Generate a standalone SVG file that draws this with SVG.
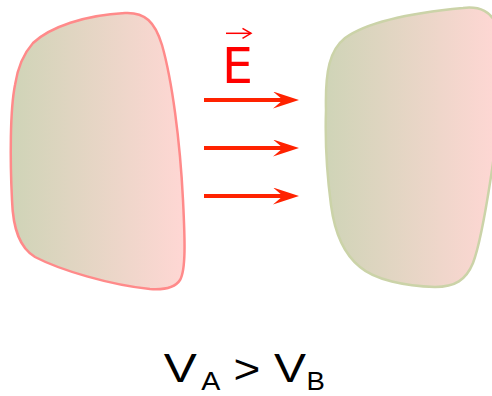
<svg xmlns="http://www.w3.org/2000/svg" width="492" height="396" viewBox="0 0 492 396">
<defs>
<linearGradient id="fill" x1="0" y1="0" x2="1" y2="0">
<stop offset="0" stop-color="#cfd4b7"/>
<stop offset="1" stop-color="#ffd7d4"/>
</linearGradient>
<marker id="head" markerUnits="userSpaceOnUse" markerWidth="26" markerHeight="17" viewBox="0 0 26 17" refX="17" refY="8.5" orient="auto">
<path d="M0,0 L26,8.5 L0,17 L10,8.5 Z" fill="#ff2200"/>
</marker>
<marker id="vhead" markerUnits="userSpaceOnUse" markerWidth="12" markerHeight="14" viewBox="0 0 12 14" refX="10" refY="7" orient="auto">
<path d="M1.5,2 L10,7 L1.5,12" fill="none" stroke="#ff0000" stroke-width="1.5"/>
</marker>
<style>
.field{stroke:#ff2200;stroke-width:4;fill:none;marker-end:url(#head)}
.lbl{font-family:"Liberation Sans",Arial,sans-serif;fill:#000}
</style>
</defs>
<rect width="492" height="396" fill="#fff"/>
<g id="bodyA">
<path d="M33,43 C50,27 85,15 125,13 C145,12 155,22 162,45 C172,80 180,140 183,200 C185,240 186,270 180,280 C175,288 165,290 150,289 C110,285 60,270 35,257 C20,248 13,230 12,200 C10,160 10,110 15,85 C18,65 25,52 33,43 Z" fill="url(#fill)" stroke="#ff8a8a" stroke-width="2.5"/>
</g>
<g id="bodyB">
<path d="M326,110 C325,70 330,50 345,38 C370,20 420,12 463,8 C480,6 492,12 496,25 C500,60 498,130 492,170 C486,210 480,245 473,263 C466,280 455,287 435,287 C405,286 375,280 360,267 C345,255 335,235 331,205 C327,175 325,140 326,110 Z" fill="url(#fill)" stroke="#cbd3a8" stroke-width="2.5"/>
</g>
<g id="connectors">
<line class="field" x1="204" y1="100" x2="290" y2="100"/>
<line class="field" x1="204" y1="148" x2="290" y2="148"/>
<line class="field" x1="204" y1="196" x2="290" y2="196"/>
</g>
<g id="fieldLabel">
<line x1="226" y1="33.3" x2="251" y2="33.3" stroke="#ff0000" stroke-width="1.5" marker-end="url(#vhead)"/>
<text x="222" y="83.3" font-family="DejaVu Sans, sans-serif" font-size="49" fill="#ff0000">E</text>
</g>
<g id="potentialLabel">
<text class="lbl" font-size="41" transform="translate(163.7,381.5) scale(1.21,1)">V</text>
<text class="lbl" font-size="26" transform="translate(201.3,389.7) scale(1.1,1)">A</text>
<text class="lbl" font-size="41" transform="translate(233.5,383) scale(1.12,1)">&gt;</text>
<text class="lbl" font-size="41" transform="translate(274,381.5) scale(1.17,1)">V</text>
<text class="lbl" font-size="26" transform="translate(306.5,389.7) scale(1.06,1)">B</text>
</g>
</svg>
